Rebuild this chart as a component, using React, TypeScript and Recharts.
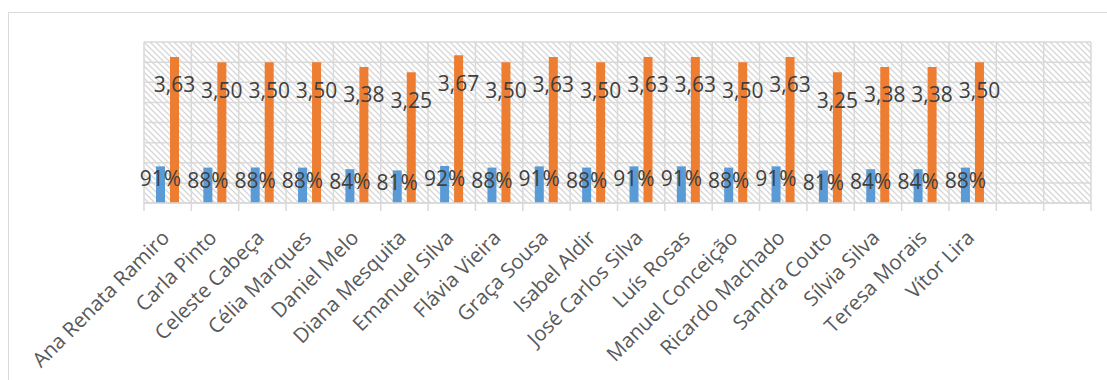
import React from 'react'
import { BarChart, Bar, XAxis, YAxis, CartesianGrid, LabelList } from 'recharts'

// nomes dos formandos (as duas últimas colunas ficam vazias no original)
const nomes = [
  'Ana Renata Ramiro', 'Carla Pinto', 'Celeste Cabeça', 'Célia Marques', 'Daniel Melo',
  'Diana Mesquita', 'Emanuel Silva', 'Flávia Vieira', 'Graça Sousa', 'Isabel Aldir',
  'José Carlos Silva', 'Luís Rosas', 'Manuel Conceição', 'Ricardo Machado', 'Sandra Couto',
  'Sílvia Silva', 'Teresa Morais', 'Vítor Lira',
]
const vazios = [' ', '  ']

const percentagem = [0.91, 0.88, 0.88, 0.88, 0.84, 0.81, 0.92, 0.88, 0.91, 0.88, 0.91, 0.91, 0.88, 0.91, 0.81, 0.84, 0.84, 0.88]
const media = [3.63, 3.5, 3.5, 3.5, 3.38, 3.25, 3.67, 3.5, 3.63, 3.5, 3.63, 3.63, 3.5, 3.63, 3.25, 3.38, 3.38, 3.5]

const yTicks = [0, 0.5, 1, 1.5, 2, 2.5, 3, 3.5, 4]

const dados = [
  ...nomes.map((nome, i) => ({ nome, percentagem: percentagem[i], media: media[i] })),
  ...vazios.map(nome => ({ nome, percentagem: null, media: null })),
]

const FONTE = '"Open Sans", sans-serif'
const GRELHA = '#d9d9d9'

function TickNome(props: any) {
  const { x, y, payload, index } = props
  const half = payload.offset || 0
  const eixo = y - 8
  const tx = x + 3
  const ty = y + 28
  return (
    <g>
      <line x1={x - half} x2={x - half} y1={eixo} y2={eixo + 8} stroke={GRELHA} strokeWidth={1.5} />
      {index === dados.length - 1 && (
        <line x1={x + half} x2={x + half} y1={eixo} y2={eixo + 8} stroke={GRELHA} strokeWidth={1.5} />
      )}
      <text
        x={tx}
        y={ty}
        textAnchor="end"
        transform={`rotate(-45, ${tx}, ${ty})`}
        fill="#595959"
        fontSize={20.5}
        fontFamily={FONTE}
      >
        {payload.value.trim()}
      </text>
    </g>
  )
}

function rotulo(dy: number, fmt: (v: number) => string) {
  return (props: any) => {
    const { x, y, width, value } = props
    if (value == null) return null
    return (
      <text
        x={Number(x) + Number(width) / 2}
        y={Number(y) + dy}
        textAnchor="middle"
        fill="#404040"
        fontSize={21}
        fontFamily={FONTE}
      >
        {fmt(Number(value))}
      </text>
    )
  }
}

export default function App() {
  return (
    <div style={{ position: 'fixed', left: 0, top: 0, width: 1107, height: 380, background: '#fff', overflow: 'hidden' }}>
      <div style={{ position: 'absolute', left: 8, top: 12, width: 1130, height: 420, border: `1px solid ${GRELHA}` }} />
      <div style={{ position: 'absolute', left: 0, top: 0 }}>
        <BarChart
          width={1107}
          height={380}
          data={dados}
          margin={{ top: 42, right: 16, left: 144, bottom: 0 }}
          barSize={9}
          barGap={5}
        >
          <defs>
            <pattern id="tracejado" patternUnits="userSpaceOnUse" width={6} height={6}>
              <path d="M0,0 L6,6 M-1,5 L1,7 M5,-1 L7,1" stroke="#d6d6d6" strokeWidth={1.3} />
            </pattern>
          </defs>
          <CartesianGrid
            fill="url(#tracejado)"
            stroke={GRELHA}
            strokeWidth={1.5}
            verticalCoordinatesGenerator={({ offset }: any) =>
              [...dados.map((_, i) => offset.left + (i * offset.width) / dados.length), offset.left + offset.width]
            }
          />
          <XAxis
            dataKey="nome"
            interval={0}
            height={177}
            tickSize={8}
            tickMargin={0}
            tickLine={false}
            axisLine={{ stroke: GRELHA, strokeWidth: 1.5 }}
            tick={<TickNome />}
          />
          <YAxis hide domain={[0, 4]} ticks={yTicks} interval={0} />
          <Bar dataKey="percentagem" fill="#5b9bd5" isAnimationActive={false}>
            <LabelList dataKey="percentagem" content={rotulo(20, v => `${Math.round(v * 100)}%`)} />
          </Bar>
          <Bar dataKey="media" fill="#ed7d31" isAnimationActive={false}>
            <LabelList dataKey="media" content={rotulo(35.5, v => v.toFixed(2).replace('.', ','))} />
          </Bar>
        </BarChart>
      </div>
    </div>
  )
}
